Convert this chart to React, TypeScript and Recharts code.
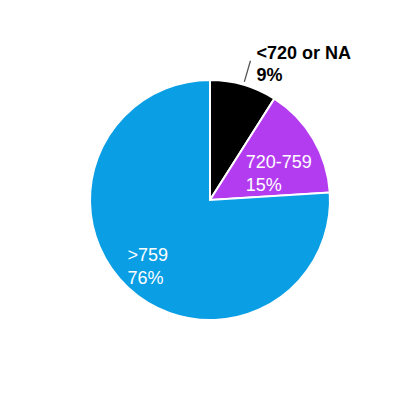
import { PieChart, Pie, Cell } from 'recharts';

const labels = ['<720 or NA', '720-759', '>759'];
const shares = [9, 15, 76];
const COLORS = ['#000000', '#b43cf0', '#0a9ee4'];

const data = labels.map((name, i) => ({ name, value: shares[i] }));

const RAD = Math.PI / 180;
const FONT = '"Liberation Sans", Arial, sans-serif';

function renderLabel(props: any) {
  const { cx, cy, midAngle, outerRadius, index, name, value } = props;
  const lines = [name, `${value}%`];
  if (index === 0) {
    // outside label with a short leader line
    const cos = Math.cos(-midAngle * RAD);
    const sin = Math.sin(-midAngle * RAD);
    const x1 = cx + (outerRadius + 3) * cos;
    const y1 = cy + (outerRadius + 3) * sin;
    const x2 = cx + (outerRadius + 25) * cos;
    const y2 = cy + (outerRadius + 25) * sin;
    return (
      <g>
        <line x1={x1} y1={y1} x2={x2} y2={y2} stroke="#555" strokeWidth={1.3} />
        <text x={x2 + 6} y={y2 - 2} fill="#000" fontSize={18} fontWeight="bold" fontFamily={FONT}>
          <tspan x={x2 + 6}>{lines[0]}</tspan>
          <tspan x={x2 + 6} dy={22}>{lines[1]}</tspan>
        </text>
      </g>
    );
  }
  const r = index === 1 ? outerRadius * 0.63 : outerRadius * 0.76;
  const a = index === 1 ? midAngle - 10 : midAngle;
  const px = cx + r * Math.cos(-a * RAD);
  const py = cy + r * Math.sin(-a * RAD);
  const w = String(name).length * 0.556 * 18;
  const x = px - w / 2;
  return (
    <text x={x} y={py - 5} fill="#fff" fontSize={18} fontFamily={FONT}>
      <tspan x={x}>{lines[0]}</tspan>
      <tspan x={x} dy={23}>{lines[1]}</tspan>
    </text>
  );
}

export default function App() {
  return (
    <div style={{ width: 412, height: 392, fontFamily: FONT }}>
      <PieChart width={412} height={392} margin={{ top: 0, right: 0, bottom: 0, left: 0 }}>
        <Pie
          data={data}
          dataKey="value"
          nameKey="name"
          cx={202}
          cy={192}
          outerRadius={120}
          startAngle={90}
          endAngle={-270}
          stroke="#fff"
          strokeWidth={2}
          label={renderLabel}
          labelLine={false}
          isAnimationActive={false}
        >
          {data.map((d, i) => (
            <Cell key={d.name} fill={COLORS[i]} />
          ))}
        </Pie>
      </PieChart>
    </div>
  );
}
